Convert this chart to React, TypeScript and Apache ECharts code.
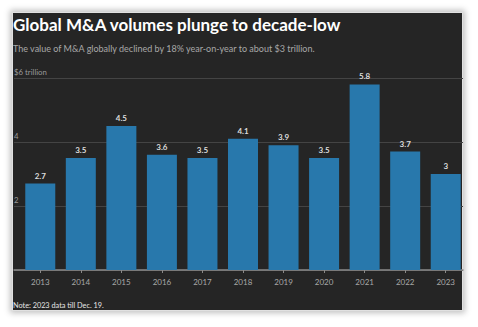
import React, { useEffect, useRef } from "react";
import * as echarts from "echarts";

const years = ["2013", "2014", "2015", "2016", "2017", "2018", "2019", "2020", "2021", "2022", "2023"];
const volumes = [2.7, 3.5, 4.5, 3.6, 3.5, 4.1, 3.9, 3.5, 5.8, 3.7, 3];
const yTicks = [0, 2, 4, 6];

const FONT = "Lato, 'Open Sans', sans-serif";

export default function App() {
  const ref = useRef<HTMLDivElement>(null);
  useEffect(() => {
    if (!ref.current) return;
    const chart = echarts.init(ref.current, null, { renderer: "svg" });
    chart.setOption({
      animation: false,
      backgroundColor: "transparent",
      title: [
        {
          text: "Global M&A volumes plunge to decade-low",
          left: 13,
          top: 16,
          padding: 0,
          textStyle: { color: "#ffffff", fontSize: 17, fontWeight: "bold", fontFamily: FONT },
        },
        {
          text: "The value of M&A globally declined by 18% year-on-year to about $3 trillion.",
          left: 13,
          top: 44,
          padding: 0,
          textStyle: { color: "#a8a8a8", fontSize: 9, fontWeight: "normal", fontFamily: FONT },
        },
        {
          text: "Note: 2023 data till Dec. 19.",
          left: 13,
          top: 302,
          padding: 0,
          textStyle: { color: "#e6e6e6", fontSize: 7.3, fontWeight: "normal", fontFamily: FONT },
        },
      ],
      grid: [
        { left: 14, right: 15, top: 78, bottom: 57 },
        { left: 20, right: 12, top: 78, bottom: 57 },
      ],
      xAxis: [
        {
          gridIndex: 0,
          type: "category",
          data: years,
          axisLine: { show: true, lineStyle: { color: "#8a8a8a", width: 1.5 } },
          axisTick: { show: false },
          axisLabel: { show: false },
        },
        {
          gridIndex: 1,
          type: "category",
          data: years,
          axisLine: { show: false },
          axisTick: { show: true, alignWithLabel: true, length: 3, lineStyle: { color: "#8a8a8a" } },
          axisLabel: { color: "#a8a8a8", fontSize: 8, fontFamily: FONT, margin: 8 },
        },
      ],
      yAxis: [
        {
          gridIndex: 0,
          type: "value",
          min: 0,
          max: 6,
          interval: 2,
          axisLine: { show: false },
          axisTick: { show: false },
          splitLine: { show: true, lineStyle: { color: "#444444", width: 1 } },
          axisLabel: {
            inside: true,
            margin: 0,
            verticalAlign: "bottom",
            padding: [0, 0, 2, 0],
            color: "#9a9a9a",
            fontSize: 7.8,
            fontFamily: FONT,
            formatter: (v: number) => (v === yTicks[3] ? "$6 trillion" : v === yTicks[0] ? "" : String(v)),
          },
        },
        {
          gridIndex: 1,
          type: "value",
          min: 0,
          max: 6,
          interval: 2,
          show: false,
        },
      ],
      series: [
        {
          type: "bar",
          xAxisIndex: 1,
          yAxisIndex: 1,
          data: volumes,
          barWidth: 30,
          itemStyle: { color: "#2878ac" },
          label: {
            show: true,
            position: "top",
            distance: 4,
            color: "#dddddd",
            fontSize: 8,
            fontWeight: "bold",
            fontFamily: FONT,
          },
        },
      ],
    });
    return () => chart.dispose();
  }, []);

  return (
    <div style={{ position: "fixed", left: 0, top: 0, width: 478, height: 327, background: "#ffffff" }}>
      <div
        style={{
          position: "absolute",
          left: 12,
          top: 12,
          width: 451,
          height: 299,
          background: "#252525",
          boxShadow: "0 0 6px 2px rgba(0,0,0,0.25)",
          border: "1px solid #e0e0e0",
          boxSizing: "border-box",
        }}
      />
      <div ref={ref} style={{ position: "absolute", left: 0, top: 0, width: 478, height: 327 }} />
    </div>
  );
}
